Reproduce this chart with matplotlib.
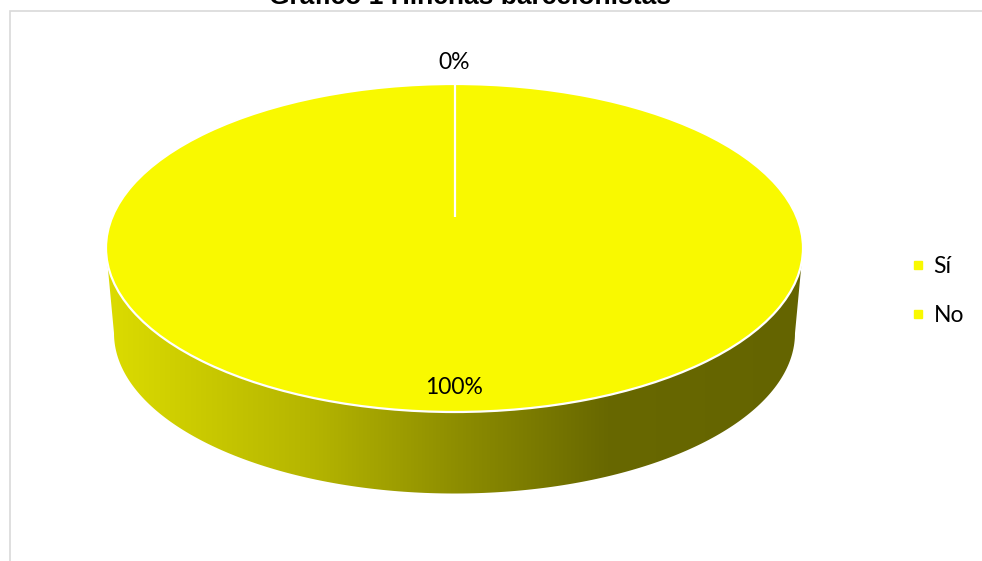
import matplotlib
matplotlib.use("Agg")
import matplotlib.pyplot as plt
import numpy as np
from matplotlib.colors import LinearSegmentedColormap
from matplotlib.patches import Polygon, Rectangle

# Data
categories = ["Sí", "No"]
values = [0, 100]
title = "Gráfico 1 Hinchas barcelonistas"

top_color = "#f9f900"
fig_w, fig_h = 982, 561
fig = plt.figure(figsize=(fig_w / 100, fig_h / 100), dpi=100)

# light grey frame, clipped by the image edges like the screenshot
fig.patches.append(Rectangle((10 / fig_w, -0.1), 1.1, (fig_h - 10.5) / fig_h + 0.1,
                             transform=fig.transFigure, fill=False,
                             edgecolor="#d9d9d9", linewidth=1.2))

# title is cut off at the top of the image
fig.text(470 / fig_w, 1 - 4.5 / fig_h, title, ha="center", va="baseline",
         fontsize=19, fontweight="bold", family="Liberation Sans")

# axes: x -1..1 spans px 106..803, y 1..-1 spans px 84..412
px_per_unit_y = (412 - 84) / 2
y_low = -1.6
y_high = 1.35
ax_bottom_px = 248 - y_low * px_per_unit_y
ax_top_px = 248 - y_high * px_per_unit_y
ax = fig.add_axes([106 / fig_w, 1 - ax_bottom_px / fig_h,
                   (803 - 106) / fig_w, (ax_bottom_px - ax_top_px) / fig_h])

wedges, _ = ax.pie(values, colors=[top_color, top_color], startangle=90,
                   counterclock=False, radius=1,
                   wedgeprops=dict(edgecolor="white", linewidth=1.6))
ax.set_aspect("auto")
ax.set_xlim(-1, 1)
ax.set_ylim(y_low, y_high)
for w in wedges:
    w.set_zorder(3)

# slice boundary (a full 360 wedge draws no radial edge); perspective centre
persp_center = 0.19
for w in wedges:
    if w.theta2 - w.theta1 >= 360:
        a = np.deg2rad(w.theta1)
        ax.plot([0, np.cos(a)], [persp_center, np.sin(a)], color="white",
                linewidth=1.6, zorder=4, solid_capstyle="butt")

# side of the 3D pie with a left-to-right shading
depth = 0.52
shrink = 0.977
t = np.linspace(np.pi, 2 * np.pi, 200)
top_edge = np.column_stack([np.cos(t), np.sin(t)])
bot_edge = np.column_stack([shrink * np.cos(t[::-1]), -depth + shrink * np.sin(t[::-1])])
side = Polygon(np.vstack([top_edge, bot_edge]), closed=True, facecolor="none",
               edgecolor="none")
ax.add_patch(side)
shade = LinearSegmentedColormap.from_list(
    "side", [(0.0, "#dcdc00"), (0.3, "#b4b400"), (0.5, "#8e8e00"),
             (0.72, "#686800"), (1.0, "#646400")])
grad = np.linspace(0, 1, 256).reshape(1, -1)
img = ax.imshow(grad, cmap=shade, extent=[-1, 1, -1 - depth - 0.05, 0.05],
                aspect="auto", zorder=2)
img.set_clip_path(side)

# percentage labels
total = sum(values)
label_dist = [1.13 if v == 0 else 0.85 for v in values]
for w, v, d in zip(wedges, values, label_dist):
    mid = np.deg2rad((w.theta1 + w.theta2) / 2)
    ax.text(d * np.cos(mid), d * np.sin(mid), f"{v / total:.0%}",
            ha="center", va="center", fontsize=16.5, family="Lato", zorder=5)

# legend
handles = [plt.Line2D([], [], marker="s", linestyle="none", markersize=6,
                      markerfacecolor=top_color, markeredgecolor=top_color)
           for _ in categories]
fig.legend(handles, categories, loc="center left",
           bbox_to_anchor=(890 / fig_w, 1 - 291 / fig_h), frameon=False,
           prop=dict(family="Lato", size=16.5), handlelength=0.6,
           handletextpad=0.4, labelspacing=1.2)

fig.savefig("out.png", dpi=100)
